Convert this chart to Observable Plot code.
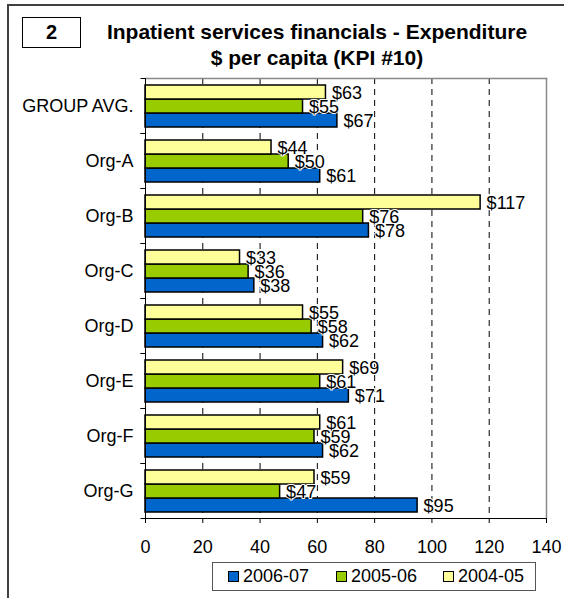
<!DOCTYPE html>
<html>
<head>
<meta charset="utf-8">
<script src="https://cdn.jsdelivr.net/npm/d3@7"></script>
<script src="https://cdn.jsdelivr.net/npm/@observablehq/plot@0.6"></script>
<style>
  html, body { margin: 0; padding: 0; background: #fff; overflow: hidden; }
  #wrap { position: relative; width: 564px; height: 598px; overflow: hidden; font-family: "Liberation Sans", Arial, sans-serif; color: #000; }
  #outer { position: absolute; left: 7px; top: 4px; width: 557px; height: 594px; border-left: 2px solid #404040; border-top: 2px solid #404040; box-sizing: border-box; }
  #num { position: absolute; left: 22px; top: 17px; width: 59px; height: 31px; border: 1.5px solid #000; box-sizing: border-box; font-weight: bold; font-size: 20px; line-height: 28px; text-align: center; }
  #title { position: absolute; left: 67px; width: 500px; top: 19px; text-align: center; font-weight: bold; font-size: 21px; line-height: 26px; }
  #chart { position: absolute; left: 0; top: 0; }
  #legend { position: absolute; left: 212px; top: 562px; width: 324px; height: 29px; border: 1px solid #555; box-sizing: border-box; font-size: 18px; }
  .item { position: absolute; top: 0; height: 27px; line-height: 27px; white-space: nowrap; }
  .sw { display: inline-block; width: 9px; height: 9px; border: 1px solid #000; margin-right: 4px; vertical-align: 0px; }
</style>
</head>
<body>
<div id="wrap">
  <div id="outer"></div>
  <div id="chart"></div>
  <div id="num">2</div>
  <div id="title">Inpatient services financials - Expenditure<br>$ per capita (KPI #10)</div>
  <div id="legend"></div>
</div>
<script>
const categories = ["GROUP AVG.", "Org-A", "Org-B", "Org-C", "Org-D", "Org-E", "Org-F", "Org-G"];
const series = ["2006-07", "2005-06", "2004-05"];
const v2006_07 = [67, 61, 78, 38, 62, 71, 62, 95];
const v2005_06 = [55, 50, 76, 36, 58, 61, 59, 47];
const v2004_05 = [63, 44, 117, 33, 55, 69, 61, 59];
const xTicks = [0, 20, 40, 60, 80, 100, 120, 140];
const colors = ["#0066CC", "#99CC00", "#FFFF99"];

const seriesValues = [v2006_07, v2005_06, v2004_05];
const data = [];
categories.forEach((org, i) => {
  series.forEach((s, j) => data.push({org, series: s, value: seriesValues[j][i]}));
});

const leftTick = {draw(ctx) { ctx.moveTo(-5, 0); ctx.lineTo(0, 0); }};

const chart = Plot.plot({
  width: 564,
  height: 598,
  marginTop: 74,
  marginBottom: 77,
  marginLeft: 145,
  marginRight: 18,
  style: {fontFamily: "'Liberation Sans', Arial, sans-serif", fontSize: "18px", color: "#000", background: "transparent", overflow: "visible"},
  x: {domain: [0, 140], ticks: xTicks, tickSize: 5, tickPadding: 17, label: null, line: true},
  y: {domain: series.slice().reverse(), axis: null, paddingInner: 0, paddingOuter: 0.36},
  fy: {domain: categories, padding: 0, axis: "left", tickSize: 0, tickPadding: 12, label: null},
  color: {domain: series, range: colors},
  marks: [
    Plot.ruleX(xTicks.slice(1, -1), {stroke: "#000", strokeDasharray: "6,5", strokeWidth: 1}),
    Plot.ruleX([140], {stroke: "#888", strokeWidth: 1.5}),
    Plot.frame({anchor: "top", stroke: "#888", strokeWidth: 1.5, fy: [categories[0]]}),
    Plot.barX(data, {x: "value", y: "series", fy: "org", fill: "series", stroke: "#000", strokeWidth: 1.5}),
    Plot.text(data, {x: "value", y: "series", fy: "org", text: d => "$" + d.value, textAnchor: "start", dx: 6, dy: 1, fill: "#000", stroke: "#fff", strokeWidth: 2, paintOrder: "stroke", fontSize: 18}),
    Plot.ruleX([0], {stroke: "#000", strokeWidth: 1}),
    Plot.dot(categories, {fy: d => d, frameAnchor: "top-left", symbol: leftTick, fill: "none", stroke: "#000", strokeWidth: 1}),
    Plot.dot(categories, {fy: d => d, frameAnchor: "bottom-left", symbol: leftTick, fill: "none", stroke: "#000", strokeWidth: 1})
  ]
});
document.getElementById("chart").appendChild(chart);

const legend = document.getElementById("legend");
const legendX = [15, 123, 230];
series.forEach((s, i) => {
  const it = document.createElement("div");
  it.className = "item";
  it.style.left = legendX[i] + "px";
  const sw = document.createElement("span");
  sw.className = "sw";
  sw.style.background = colors[i];
  it.appendChild(sw);
  it.appendChild(document.createTextNode(s));
  legend.appendChild(it);
});
</script>
</body>
</html>
